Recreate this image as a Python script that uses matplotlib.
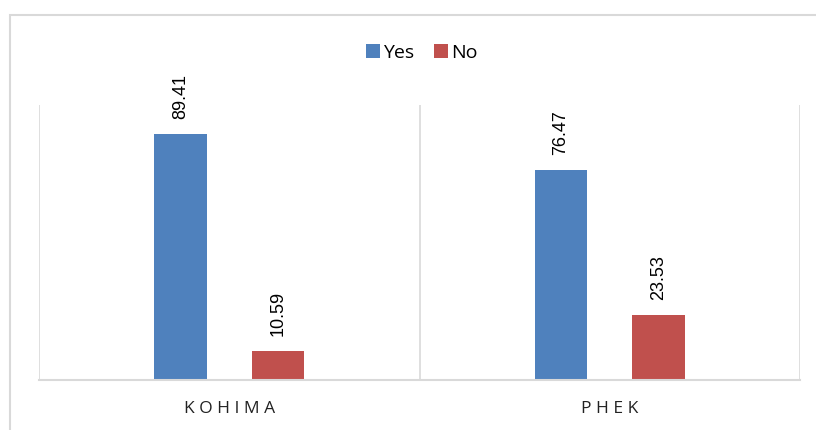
import matplotlib.pyplot as plt
import matplotlib.patches as mpatches
import numpy as np

plt.rcParams['font.family'] = ['Open Sans', 'DejaVu Sans']

districts = ['KOHIMA', 'PHEK']
yes_vals = [89.41, 76.47]
no_vals = [10.59, 23.53]

blue = '#4f81bd'
red = '#c0504d'

fig = plt.figure(figsize=(8.16, 4.30), dpi=100)

# outer chart border (cut off on the right and bottom like the reference)
border = mpatches.Rectangle((10 / 816, -0.05), 1.0, 0.05 + (430 - 15) / 430,
                            transform=fig.transFigure, fill=False,
                            edgecolor='#d9d9d9', linewidth=1.5)
fig.patches.append(border)

ax = fig.add_axes([39 / 816, 50 / 430, (800 - 39) / 816, (380 - 105) / 430])

x = np.arange(len(districts))
w = 0.137
off = 0.128
b1 = ax.bar(x - off, yes_vals, w, color=blue, label='Yes')
b2 = ax.bar(x + off, no_vals, w, color=red, label='No')

for bars in (b1, b2):
    for rect in bars:
        h = rect.get_height()
        ax.text(rect.get_x() + rect.get_width() / 2, h + 5.5, f'{h:.2f}',
                rotation=90, ha='center', va='bottom', fontsize=13,
                family=['Liberation Sans', 'DejaVu Sans'])

ax.set_xlim(-0.5, 1.5)
ax.set_ylim(0, 100)
ax.set_yticks([])
ax.set_xticks([])

for s in ['top', 'right']:
    ax.spines[s].set_visible(False)
ax.spines['left'].set_visible(False)
ax.spines['bottom'].set_color('#d9d9d9')
ax.spines['bottom'].set_linewidth(1.5)

# category separator lines
for xv in [-0.5, 0.5, 1.5]:
    ax.axvline(xv, color='#d9d9d9', linewidth=1.2, zorder=0)

for xi, name in zip(x, districts):
    ax.text(xi, -10.5, ' '.join(name), ha='center', va='center',
            fontsize=12.5, color='#222222')

ax.legend(loc='center', bbox_to_anchor=(422 / 816, 1 - 53 / 430),
          bbox_transform=fig.transFigure, ncol=2, frameon=False,
          fontsize=14, handlelength=0.7, handleheight=0.7,
          handletextpad=0.2, columnspacing=1.0)

fig.savefig('out.png', dpi=100)
